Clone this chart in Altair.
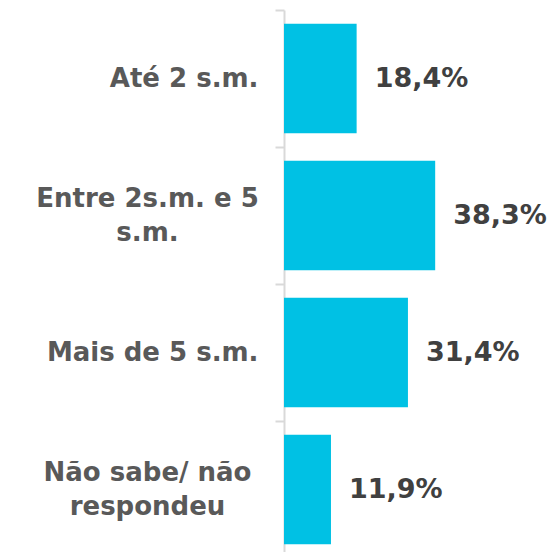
import altair as alt
import pandas as pd

categories = ["Até 2 s.m.", "Entre 2s.m. e 5 s.m.", "Mais de 5 s.m.", "Não sabe/ não respondeu"]
values = [18.4, 38.3, 31.4, 11.9]
value_labels = ["18,4%", "38,3%", "31,4%", "11,9%"]

df = pd.DataFrame({"cat": categories, "val": values, "lbl": value_labels})

multi_test = "datum.label == 'Entre 2s.m. e 5 s.m.' || datum.label == 'Não sabe/ não respondeu'"
label_expr = (
    "datum.label == 'Entre 2s.m. e 5 s.m.' ? ['Entre 2s.m. e 5', 's.m.'] : "
    "datum.label == 'Não sabe/ não respondeu' ? ['Não sabe/ não', 'respondeu'] : datum.label"
)

y = alt.Y(
    "cat:N",
    sort=categories,
    scale=alt.Scale(paddingInner=0, paddingOuter=0),
    axis=alt.Axis(
        title=None,
        labelExpr=label_expr,
        labelFont="DejaVu Sans",
        labelFontWeight="bold",
        labelFontSize=26,
        labelColor="#595959",
        labelLineHeight=34,
        labelPadding={"condition": {"test": multi_test, "value": 128}, "value": 17},
        labelAlign={"condition": {"test": multi_test, "value": "center"}, "value": "right"},
        labelOffset={"condition": {"test": multi_test, "value": -17}, "value": 0},
        labelLimit=400,
        tickBand="extent",
        tickSize=9,
        tickWidth=2,
        tickColor="#D9D9D9",
        domainColor="#D9D9D9",
        domainWidth=2,
        grid=False,
    ),
)
x = alt.X("val:Q", scale=alt.Scale(domain=[0, 68.4], nice=False), axis=None)

bars = alt.Chart(df).mark_bar(color="#00C1E4", height={"band": 0.8}).encode(x=x, y=y)
text = alt.Chart(df).mark_text(
    align="left", baseline="middle", dx=18, font="DejaVu Sans", fontWeight="bold",
    fontSize=27, color="#404040"
).encode(x=x, y=alt.Y("cat:N", sort=categories), text="lbl:N")

chart = (bars + text).properties(
    width=270, height=548,
    background="white",
    autosize=alt.AutoSizeParams(type="none"),
    padding={"left": 284, "top": 10, "right": 0, "bottom": 0},
).configure_view(stroke="transparent", strokeWidth=0)

chart.save("out.html", embed_options={"renderer": "svg", "actions": False})
